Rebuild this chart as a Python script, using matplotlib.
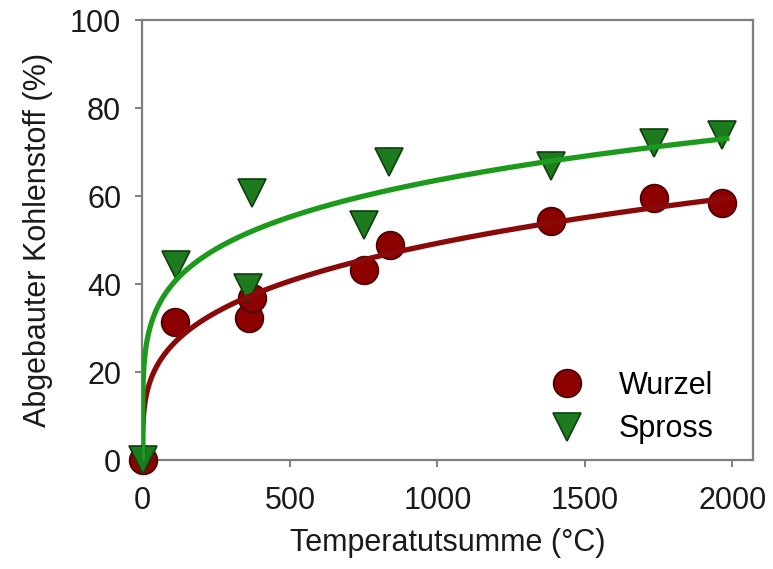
import numpy as np
import matplotlib
matplotlib.use("Agg")
import matplotlib.pyplot as plt

# Data
wurzel_x = [0, 110, 360, 370, 750, 840, 1385, 1735, 1965]
wurzel_y = [0, 31.3, 32.2, 36.8, 43.2, 48.9, 54.4, 59.5, 58.5]
spross_x = [0, 112, 356, 370, 752, 835, 1385, 1735, 1965]
spross_y = [0, 44.3, 39.2, 60.6, 53.4, 67.7, 66.8, 72.0, 73.9]

x_ticks = [0, 500, 1000, 1500, 2000]
y_ticks = [0, 20, 40, 60, 80, 100]

plt.rcParams['font.family'] = ['Liberation Sans', 'DejaVu Sans']
FS = 22

fig = plt.figure(figsize=(7.73, 5.69), dpi=100)
ax = fig.add_axes([142/773, 1 - 460/569, (753 - 142)/773, (460 - 20)/569])

def power_fit(x, y):
    """least squares fit of y = a * x**b in linear space"""
    x = np.asarray(x, float); y = np.asarray(y, float)
    best = None
    for b in np.linspace(0.05, 0.8, 1501):
        xb = x**b
        a = (xb @ y) / (xb @ xb)
        r = np.sum((y - a * xb)**2)
        if best is None or r < best[0]:
            best = (r, a, b)
    return best[1], best[2]

red_fill = '#8c0000'
red_edge = '#4a0000'
red_line = '#8a0a0a'
green_fill = '#1e7a1e'
green_edge = '#0d400d'
green_line = '#1c9a1c'

ax.plot(wurzel_x, wurzel_y, 'o', ms=20, mfc=red_fill, mec=red_edge, mew=1.2,
        ls='none', label='Wurzel', zorder=3, clip_on=False)
ax.plot(spross_x, spross_y, 'v', ms=20, mfc=green_fill, mec=green_edge, mew=1.2,
        ls='none', label='Spross', zorder=4, clip_on=False)

xs = np.concatenate([[0], np.logspace(-3, np.log10(1990), 400)])
a, b = power_fit(wurzel_x, wurzel_y)
ax.plot(xs, a * xs**b, color=red_line, lw=3.8, zorder=5, solid_capstyle='butt')
a, b = power_fit(spross_x, spross_y)
ax.plot(xs, a * xs**b, color=green_line, lw=3.8, zorder=6, solid_capstyle='butt')

ax.set_xlim(-2, 2070)
ax.set_ylim(0, 100)
ax.set_xticks(x_ticks)
ax.set_yticks(y_ticks)

for s in ax.spines.values():
    s.set_color('#7f7f7f')
    s.set_linewidth(1.6)
ax.tick_params(direction='out', length=5, width=1.4, color='#7f7f7f',
               labelsize=FS, labelcolor='#1a1a1a')
ax.tick_params(axis='x', pad=14)
ax.tick_params(axis='y', pad=10)

ax.set_xlabel('Temperatutsumme (°C)', fontsize=FS, color='#1a1a1a', labelpad=8)
ax.set_ylabel('Abgebauter Kohlenstoff (%)', fontsize=FS, color='#1a1a1a', labelpad=12)

leg = ax.legend(loc='lower right', frameon=False, fontsize=FS, handletextpad=0.68,
                labelspacing=0.45, bbox_to_anchor=(0.98, -0.027), markerscale=1.0)

fig.savefig('out.png', dpi=100)
